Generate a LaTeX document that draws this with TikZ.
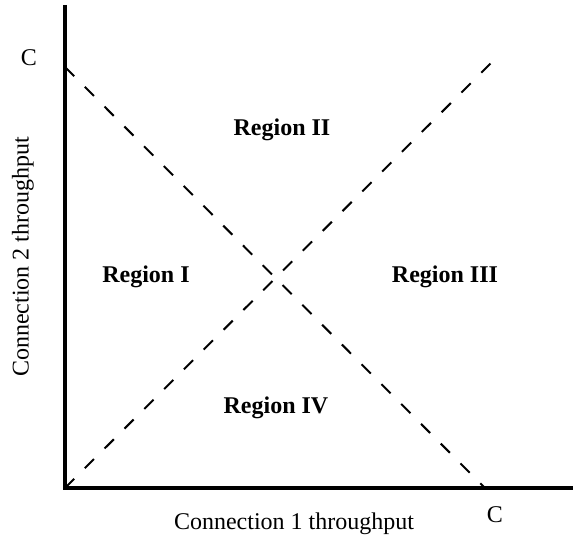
\documentclass[tikz,border=0pt]{standalone}
\usepackage{fontspec}
\setmainfont{Liberation Serif}
\usetikzlibrary{positioning}

\begin{document}
\begin{tikzpicture}[x=0.5pt, y=0.5pt]

  % styles
  \tikzstyle{axis} = [line width=2pt]
  \tikzstyle{bound} = [line width=1pt, dash pattern=on 6.5pt off 7.5pt]
  \tikzstyle{region} = [font=\fontsize{12}{14}\selectfont\bfseries]
  \tikzstyle{axislabel} = [font=\fontsize{12}{14}\selectfont]

  \useasboundingbox (-65,-51) rectangle (509,488);

  % points
  \coordinate (origin) at (0,0);
  \coordinate (ytop) at (0,483);
  \coordinate (xend) at (508,0);
  \coordinate (cy) at (0,421);
  \coordinate (cx) at (420,0);
  \coordinate (diag) at (428,427);

  % axes
  \draw [axis] (ytop) -- (origin) -- (xend);

  % capacity lines
  \draw [bound] (cy) -- (cx);
  \draw [bound] (origin) -- (diag);

  % labels
  \node (cylabel) [axislabel] at (-36,430) {C};
  \node (cxlabel) [axislabel] at (430,-27) {C};
  \node (xlabel) [axislabel] at (229,-36) {Connection 1 throughput};
  \node (ylabel) [axislabel, rotate=90] at (-42,231) {Connection 2 throughput};

  % regions
  \node (r1) [region] at (81,211) {Region I};
  \node (r2) [region] at (217,358) {Region II};
  \node (r3) [region] at (380,211) {Region III};
  \node (r4) [region] at (211,80) {Region IV};

\end{tikzpicture}
\end{document}
